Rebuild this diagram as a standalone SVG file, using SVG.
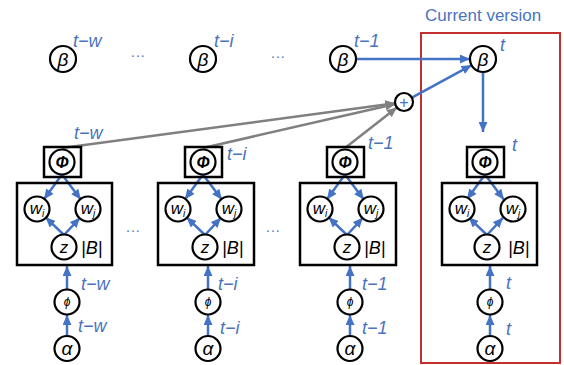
<svg xmlns="http://www.w3.org/2000/svg" width="564" height="365" viewBox="0 0 564 365">
<defs>
<marker id="ab" markerUnits="userSpaceOnUse" markerWidth="10" markerHeight="9" refX="10" refY="4.5" orient="auto"><path d="M0,0 L10,4.5 L0,9 z" fill="#4472C4"/></marker>
<marker id="ag" markerUnits="userSpaceOnUse" markerWidth="10" markerHeight="9" refX="10" refY="4.5" orient="auto"><path d="M0,0 L10,4.5 L0,9 z" fill="#808080"/></marker>
</defs>
<style>
.n{fill:#fff;stroke:#000;stroke-width:2.2}
.bx{fill:none;stroke:#000;stroke-width:2.5}
.ib{fill:#000;font-family:"Liberation Sans",Arial,sans-serif;font-style:italic;text-anchor:middle}
.lb{fill:#4a74bd;font-family:"Liberation Sans",Arial,sans-serif;font-style:italic;font-size:18px}
.dt{fill:#4a74bd;font-family:"Liberation Sans",Arial,sans-serif;font-size:14px;letter-spacing:1px}
.bb{font-family:"Liberation Sans",Arial,sans-serif;font-style:italic;font-size:18px}
.eb{stroke:#4472C4;stroke-width:2.5;fill:none;marker-end:url(#ab)}
.eg{stroke:#808080;stroke-width:2.5;fill:none;marker-end:url(#ag)}
</style>
<rect width="564" height="365" fill="#fff"/>
<g id="current-version">
<rect x="421" y="33" width="139" height="330" fill="none" stroke="#c0302f" stroke-width="2"/>
<text x="425" y="21" style="fill:#4a74bd;font-family:'Liberation Sans',Arial,sans-serif;font-size:17px">Current version</text>
</g>
<g id="connectors">
<g id="c1e">
<line class="eb" x1="62" y1="174.5" x2="44" y2="199.3"/>
<line class="eb" x1="62" y1="174.5" x2="80.8" y2="199.4"/>
<line class="eb" x1="64" y1="235" x2="45.6" y2="217.3"/>
<line class="eb" x1="64" y1="235" x2="79.9" y2="217.8"/>
<line class="eb" x1="67" y1="289.5" x2="67" y2="266"/>
<line class="eb" x1="67" y1="336" x2="67" y2="315"/>
</g>
<g id="c2e">
<line class="eb" x1="203" y1="174.5" x2="185" y2="199.3"/>
<line class="eb" x1="203" y1="174.5" x2="221.8" y2="199.4"/>
<line class="eb" x1="205" y1="235" x2="186.6" y2="217.3"/>
<line class="eb" x1="205" y1="235" x2="220.9" y2="217.8"/>
<line class="eb" x1="208" y1="289.5" x2="208" y2="266"/>
<line class="eb" x1="208" y1="336" x2="208" y2="315"/>
</g>
<g id="c3e">
<line class="eb" x1="345" y1="174.5" x2="327" y2="199.3"/>
<line class="eb" x1="345" y1="174.5" x2="363.8" y2="199.4"/>
<line class="eb" x1="347" y1="235" x2="328.6" y2="217.3"/>
<line class="eb" x1="347" y1="235" x2="362.9" y2="217.8"/>
<line class="eb" x1="350" y1="289.5" x2="350" y2="266"/>
<line class="eb" x1="350" y1="336" x2="350" y2="315"/>
</g>
<g id="c4e">
<line class="eb" x1="485" y1="174.5" x2="467" y2="199.3"/>
<line class="eb" x1="485" y1="174.5" x2="503.8" y2="199.4"/>
<line class="eb" x1="487" y1="235" x2="468.6" y2="217.3"/>
<line class="eb" x1="487" y1="235" x2="502.9" y2="217.8"/>
<line class="eb" x1="490" y1="289.5" x2="490" y2="266"/>
<line class="eb" x1="490" y1="336" x2="490" y2="315"/>
</g>
<line class="eg" x1="62" y1="148" x2="395.1" y2="103.2"/>
<line class="eg" x1="203" y1="148" x2="395.2" y2="104"/>
<line class="eg" x1="345" y1="148" x2="396.9" y2="107.5"/>
<line class="eb" x1="356" y1="59" x2="470" y2="59"/>
<line class="eb" x1="411.9" y1="97.7" x2="471.6" y2="65.2"/>
<line class="eb" x1="483" y1="72" x2="483" y2="132"/>
</g>
<g id="beta-tw"><circle class="n" cx="63" cy="59" r="13"/><text class="ib" x="63" y="66" font-size="19">β</text><text class="lb" x="73" y="47">t−w</text></g>
<g id="beta-ti"><circle class="n" cx="203" cy="59" r="13"/><text class="ib" x="203" y="66" font-size="19">β</text><text class="lb" x="214" y="47">t−i</text></g>
<g id="beta-t1"><circle class="n" cx="343" cy="59" r="13"/><text class="ib" x="343" y="66" font-size="19">β</text><text class="lb" x="354" y="47">t−1</text></g>
<g id="beta-t"><circle class="n" cx="483" cy="59" r="13"/><text class="ib" x="483" y="66" font-size="19">β</text><text class="lb" x="500" y="51">t</text></g>
<text class="dt" x="131" y="57">...</text>
<text class="dt" x="271" y="58">...</text>
<g id="plus"><circle class="n" cx="404" cy="102" r="9"/><text x="404" y="107.5" style="fill:#4472C4;font-family:'Liberation Sans',Arial,sans-serif;font-size:16px;text-anchor:middle">+</text></g>
<g id="col1">
<g id="Phi-tw"><rect class="bx" x="44" y="147" width="37" height="30"/><circle class="n" cx="62" cy="162" r="12.5"/><text class="ib" x="62" y="168" font-size="16" font-weight="bold">Φ</text><text class="lb" x="74" y="139">t−w</text></g>
<g id="plate-tw"><rect class="bx" x="17" y="183" width="95" height="82"/>
<circle class="n" cx="37" cy="209" r="12.5"/><text class="ib" x="37" y="214" font-size="17">w<tspan font-size="10" dy="3">i</tspan></text>
<circle class="n" cx="88" cy="209" r="12.5"/><text class="ib" x="88" y="214" font-size="17">w<tspan font-size="10" dy="3">j</tspan></text>
<circle class="n" cx="64" cy="247" r="12.5"/><text class="ib" x="64" y="253" font-size="17">z</text>
<text class="bb" x="81" y="254">|B|</text></g>
<g id="phi-tw"><circle class="n" cx="67" cy="302" r="12.5"/><text class="ib" x="67" y="306" font-size="12">ϕ</text><text class="lb" x="81" y="290">t−w</text></g>
<g id="alpha-tw"><circle class="n" cx="67" cy="348.5" r="12.5"/><text class="ib" x="67" y="355" font-size="19">α</text><text class="lb" x="78" y="332">t−w</text></g>
</g>
<text class="dt" x="126" y="232">...</text>
<g id="col2">
<g id="Phi-ti"><rect class="bx" x="185" y="147" width="37" height="30"/><circle class="n" cx="203" cy="162" r="12.5"/><text class="ib" x="203" y="168" font-size="16" font-weight="bold">Φ</text><text class="lb" x="227" y="160">t−i</text></g>
<g id="plate-ti"><rect class="bx" x="158" y="183" width="96" height="82"/>
<circle class="n" cx="178" cy="209" r="12.5"/><text class="ib" x="178" y="214" font-size="17">w<tspan font-size="10" dy="3">i</tspan></text>
<circle class="n" cx="229" cy="209" r="12.5"/><text class="ib" x="229" y="214" font-size="17">w<tspan font-size="10" dy="3">j</tspan></text>
<circle class="n" cx="205" cy="247" r="12.5"/><text class="ib" x="205" y="253" font-size="17">z</text>
<text class="bb" x="222" y="254">|B|</text></g>
<g id="phi-ti"><circle class="n" cx="208" cy="302" r="12.5"/><text class="ib" x="208" y="306" font-size="12">ϕ</text><text class="lb" x="218" y="290">t−i</text></g>
<g id="alpha-ti"><circle class="n" cx="208" cy="348.5" r="12.5"/><text class="ib" x="208" y="355" font-size="19">α</text><text class="lb" x="220" y="334">t−i</text></g>
</g>
<text class="dt" x="266" y="232">...</text>
<g id="col3">
<g id="Phi-t1"><rect class="bx" x="327" y="147" width="37" height="30"/><circle class="n" cx="345" cy="162" r="12.5"/><text class="ib" x="345" y="168" font-size="16" font-weight="bold">Φ</text><text class="lb" x="368" y="149">t−1</text></g>
<g id="plate-t1"><rect class="bx" x="300" y="183" width="96" height="82"/>
<circle class="n" cx="320" cy="209" r="12.5"/><text class="ib" x="320" y="214" font-size="17">w<tspan font-size="10" dy="3">i</tspan></text>
<circle class="n" cx="371" cy="209" r="12.5"/><text class="ib" x="371" y="214" font-size="17">w<tspan font-size="10" dy="3">j</tspan></text>
<circle class="n" cx="347" cy="247" r="12.5"/><text class="ib" x="347" y="253" font-size="17">z</text>
<text class="bb" x="364" y="254">|B|</text></g>
<g id="phi-t1"><circle class="n" cx="350" cy="302" r="12.5"/><text class="ib" x="350" y="306" font-size="12">ϕ</text><text class="lb" x="362" y="290">t−1</text></g>
<g id="alpha-t1"><circle class="n" cx="350" cy="348.5" r="12.5"/><text class="ib" x="350" y="355" font-size="19">α</text><text class="lb" x="362" y="334">t−1</text></g>
</g>
<g id="col4">
<g id="Phi-t"><rect class="bx" x="467" y="147" width="37" height="30"/><circle class="n" cx="485" cy="162" r="12.5"/><text class="ib" x="485" y="168" font-size="16" font-weight="bold">Φ</text><text class="lb" x="512" y="151">t</text></g>
<g id="plate-t"><rect class="bx" x="442" y="183" width="95" height="82"/>
<circle class="n" cx="462" cy="209" r="12.5"/><text class="ib" x="462" y="214" font-size="17">w<tspan font-size="10" dy="3">i</tspan></text>
<circle class="n" cx="513" cy="209" r="12.5"/><text class="ib" x="513" y="214" font-size="17">w<tspan font-size="10" dy="3">j</tspan></text>
<circle class="n" cx="487" cy="247" r="12.5"/><text class="ib" x="487" y="253" font-size="17">z</text>
<text class="bb" x="508" y="254">|B|</text></g>
<g id="phi-t"><circle class="n" cx="490" cy="302" r="12.5"/><text class="ib" x="490" y="306" font-size="12">ϕ</text><text class="lb" x="506" y="289">t</text></g>
<g id="alpha-t"><circle class="n" cx="490" cy="348.5" r="12.5"/><text class="ib" x="490" y="355" font-size="19">α</text><text class="lb" x="506" y="335">t</text></g>
</g>
</svg>
